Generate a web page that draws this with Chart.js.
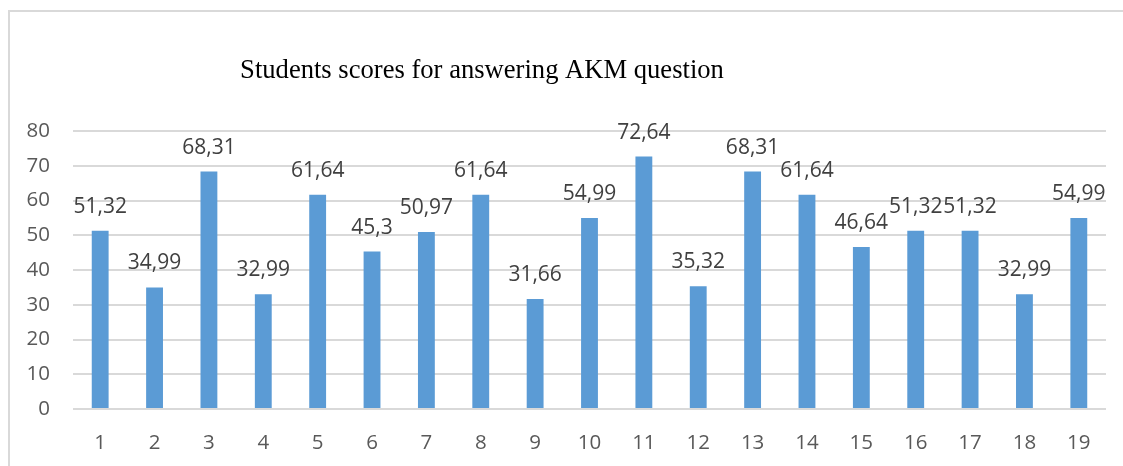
<!DOCTYPE html>
<html>
<head>
<meta charset="utf-8">
<script src="https://cdn.jsdelivr.net/npm/chart.js@4.4.1/dist/chart.umd.min.js"></script>
<style>
  html, body { margin: 0; padding: 0; background: #fff; overflow: hidden; }
  #frame {
    position: absolute; left: 8px; top: 10px; width: 1120px; height: 480px;
    border-top: 2px solid #d9d9d9; border-left: 2px solid #d9d9d9;
  }
  #chart { position: absolute; left: 0; top: 0; }
</style>
</head>
<body>
<div id="frame"></div>
<canvas id="chart" width="1123" height="466"></canvas>
<script>
const chartTitle = 'Students scores for answering AKM question';
const students = ['1', '2', '3', '4', '5', '6', '7', '8', '9', '10', '11', '12', '13', '14', '15', '16', '17', '18', '19'];
const scores = [51.32, 34.99, 68.31, 32.99, 61.64, 45.3, 50.97, 61.64, 31.66, 54.99, 72.64, 35.32, 68.31, 61.64, 46.64, 51.32, 51.32, 32.99, 54.99];
const yMin = 0;
const yMax = 80;
const yStep = 10;

const fmt = (v) => String(v).replace('.', ',');

// value labels above each bar, decimal comma like the original
const barLabels = {
  id: 'barLabels',
  afterDatasetsDraw(chart) {
    const ctx = chart.ctx;
    const meta = chart.getDatasetMeta(0);
    ctx.save();
    ctx.font = '21px "Open Sans"';
    ctx.fillStyle = '#404040';
    ctx.textAlign = 'center';
    ctx.textBaseline = 'alphabetic';
    meta.data.forEach((bar, i) => {
      ctx.fillText(fmt(scores[i]), bar.x, bar.y - 18);
    });
    ctx.restore();
  }
};

// serif title, sitting left of centre as in the source
const serifTitle = {
  id: 'serifTitle',
  afterDraw(chart) {
    const ctx = chart.ctx;
    ctx.save();
    ctx.font = '26.6px "Liberation Serif"';
    ctx.fillStyle = '#000';
    ctx.textAlign = 'center';
    ctx.textBaseline = 'alphabetic';
    ctx.fillText(chartTitle, 482, 78);
    ctx.restore();
  }
};

new Chart(document.getElementById('chart'), {
  type: 'bar',
  data: {
    labels: students,
    datasets: [{
      data: scores,
      backgroundColor: '#5b9bd5',
      borderWidth: 0,
      barPercentage: 0.31,
      categoryPercentage: 1
    }]
  },
  options: {
    responsive: false,
    animation: false,
    layout: { padding: { top: 131, right: 17, bottom: 0, left: 0 } },
    scales: {
      x: {
        grid: { display: false },
        border: { display: false },
        ticks: { color: '#595959', font: { family: 'Open Sans', size: 20.5 }, padding: 14, maxRotation: 0 },
        afterFit: (scale) => { scale.height = 57; }
      },
      y: {
        min: yMin,
        max: yMax,
        grid: { color: '#d9d9d9', lineWidth: 2, drawTicks: false },
        border: { display: false },
        ticks: { stepSize: yStep, color: '#595959', font: { family: 'Open Sans', size: 20.5 }, padding: 23 },
        afterFit: (scale) => { scale.width = 73; }
      }
    },
    plugins: {
      legend: { display: false },
      tooltip: { enabled: false }
    }
  },
  plugins: [barLabels, serifTitle]
});
</script>
</body>
</html>
